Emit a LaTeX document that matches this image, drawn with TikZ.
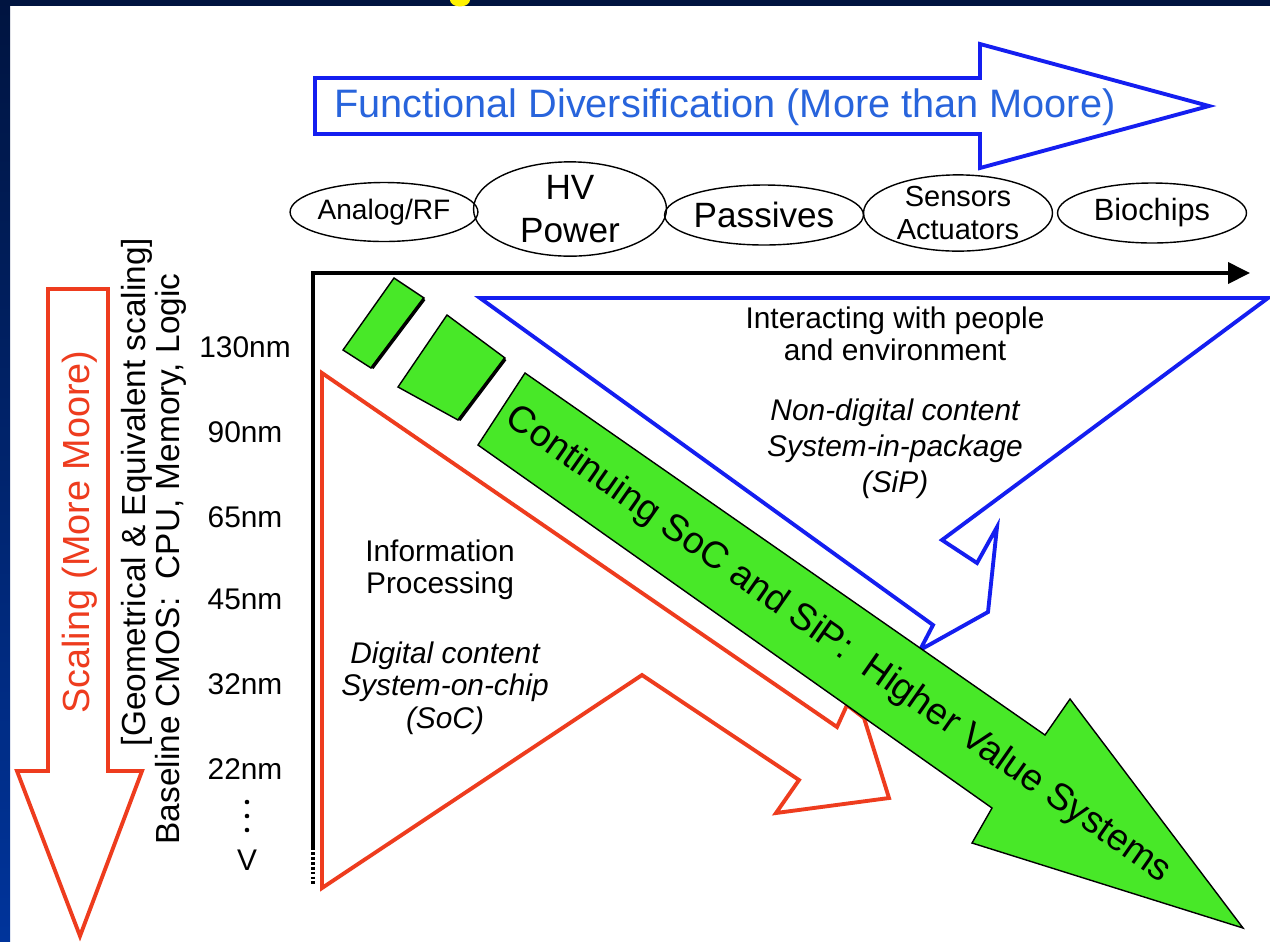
\documentclass[tikz,border=0pt]{standalone}
\usepackage{fontspec}
\setmainfont{Liberation Sans}
\usetikzlibrary{shapes.geometric,arrows.meta}
\definecolor{navytop}{RGB}{0,20,64}
\definecolor{navybot}{RGB}{0,52,155}
\definecolor{redo}{RGB}{238,60,30}
\definecolor{blueo}{RGB}{20,30,240}
\definecolor{bluetxt}{RGB}{40,100,220}
\definecolor{greenf}{RGB}{72,232,40}
\newcommand{\fsz}[2]{\fontsize{#1pt}{#2pt}\selectfont}
\begin{document}
\begin{tikzpicture}[x=0.02cm,y=-0.02cm,
  lab/.style={inner sep=0pt, font=\fsz{17}{20}},
  itxt/.style={inner sep=0pt, align=center, font=\fsz{17}{18.5}},
  ell/.style={ellipse, draw=black, line width=0.8pt, inner sep=0pt},
  redline/.style={draw=redo, line width=2.2pt, line join=miter},
  blueline/.style={draw=blueo, line width=2.2pt, line join=miter},
  blockst/.style={fill=greenf, draw=black, line width=0.8pt},
  axisline/.style={draw=black, line width=2.2pt}]
\useasboundingbox (0,0) rectangle (1270,941);
\fill[white] (0,0) rectangle (1270,941);
\shade[top color=navytop, bottom color=navybot] (0,0) rectangle (10,941);
\fill[navytop] (0,0) rectangle (1270,6);
\begin{scope}
\clip (0,0) rectangle (1270,6);
\fill[yellow] (460,0) ellipse [x radius=0.2cm, y radius=0.13cm];
\end{scope}

% left red arrow
\draw[redline, fill=white] (48,289) -- (108,289) -- (108,771) -- (142,771) -- (80,936) -- (17,771) -- (48,771) -- cycle;
\node[rotate=90, inner sep=0pt, text=redo, font=\fsz{21.5}{25}] (scal) at (80,532) {Scaling (More Moore)};
\node[rotate=90, inner sep=0pt, font=\fsz{19}{23}] (geo) at (137,492) {[Geometrical \& Equivalent scaling]};
\node[rotate=90, inner sep=0pt, font=\fsz{19}{23}] (base) at (171,559) {Baseline CMOS:\ \ CPU, Memory, Logic};

% node labels
\node[lab] (n130) at (245,347) {130nm};
\node[lab] (n90) at (245,432) {90nm};
\node[lab] (n65) at (245,517) {65nm};
\node[lab] (n45) at (245,599) {45nm};
\node[lab] (n32) at (245,684) {32nm};
\node[lab] (n22) at (245,769) {22nm};
\fill (247,802) circle (1.3pt);
\fill (247,816) circle (1.3pt);
\fill (247,830) circle (1.3pt);
\node[lab] (vv) at (247,860) {V};

% axes
\coordinate (o) at (313,273);
\coordinate (xend) at (1250,273);
\coordinate (ymid) at (313,847);
\coordinate (yend) at (313,884);
\draw[axisline, -{Triangle[length=0.44cm,width=0.42cm]}] (311,273) -- (xend);
\draw[axisline] (o) -- (ymid);
\draw[draw=black, line width=2.2pt, dash pattern=on 1.6pt off 1.2pt] (ymid) -- (yend);

% red SoC shape
\draw[redline, fill=white] (322,373) -- (837,727) -- (847,705) -- (864,718) -- (889,798) -- (776,813) -- (799,780) -- (642,675) -- (322,888) -- cycle;

% blue SiP shape
\draw[blueline, fill=white] (480,298) -- (1268,298) -- (942,540) -- (977,563) -- (997,527) -- (988,612) -- (920,650) -- (933,625) -- cycle;

% green blocks
\draw[blockst] (394,278) -- (424,298) -- (371,368) -- (343,350) -- cycle;
\draw[black, line width=2pt] (424,299) -- (372,368);
\draw[blockst] (447,315) -- (505,358) -- (458,420) -- (398,387) -- cycle;
\draw[black, line width=2pt] (505,359) -- (459,420);

% green arrow
\draw[blockst, line join=miter] (525,373) -- (1045,735) -- (1070,699) -- (1243,928) -- (972,843) -- (992,808) -- (478,445) -- cycle;
\node[rotate=-35, inner sep=0pt, font=\fsz{21.3}{25}] (gt) at (838,645) {Continuing SoC and SiP:\ \ Higher Value Systems};

% texts
\node[itxt] (inter) at (895,334) {Interacting with people\\and environment};
\node[itxt, font=\fsz{17}{20.5}\itshape] (nondig) at (895,449) {Non-digital content\\System-in-package\\(SiP)};
\node[itxt] (info) at (440,570) {Information\\Processing};
\node[itxt, font=\fsz{17}{18.5}\itshape] (dig) at (445,688) {Digital content\\System-on-chip\\(SoC)};

% ellipses
\node[ell, minimum width=3.54cm, minimum height=1.18cm, font=\fsz{16}{19}] (analog) at (384,212) {Analog/RF};
\node[ell, minimum width=3.86cm, minimum height=1.64cm, align=center, font=\fsz{20}{24}] (hv) at (570,209) {HV\\Power};
\node[ell, minimum width=3.86cm, minimum height=1.2cm, font=\fsz{20}{24}] (pass) at (764,215) {Passives};
\node[ell, minimum width=3.78cm, minimum height=1.22cm, align=center, font=\fsz{16.5}{19}] (sens) at (958,213) {Sensors\\Actuators};
\node[ell, minimum width=3.78cm, minimum height=1.2cm, font=\fsz{17.5}{20}] (bio) at (1152,213) {Biochips};

% top arrow
\draw[blueline, fill=white] (315,78) -- (980,78) -- (980,44) -- (1209,106) -- (980,168) -- (980,134) -- (315,134) -- cycle;
\node[inner sep=0pt, text=bluetxt, font=\fsz{22.6}{26}] (func) at (725,107) {Functional Diversification (More than Moore)};
\end{tikzpicture}
\end{document}
